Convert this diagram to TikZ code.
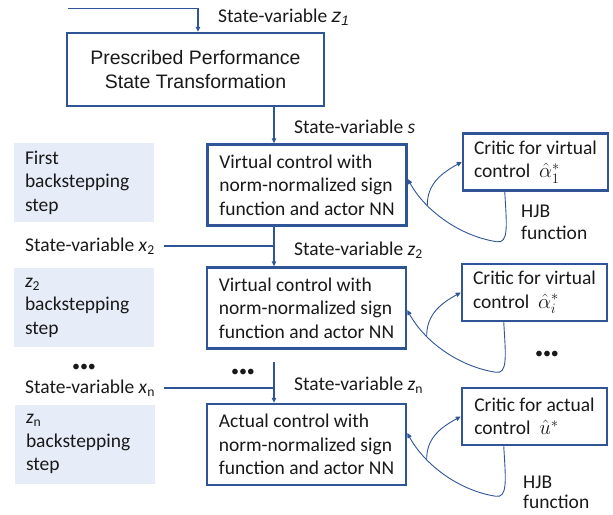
\documentclass[tikz,border=0pt]{standalone}
\usepackage{fontspec}
\setmainfont{Carlito}
\newfontfamily\arialf{Liberation Sans}
\usetikzlibrary{arrows.meta,calc}
\definecolor{bord}{RGB}{47,85,151}
\definecolor{pale}{RGB}{231,237,248}
\definecolor{ink}{RGB}{25,25,25}
\newcommand{\svar}[2]{\textit{#1}\textsubscript{#2}}
\begin{document}
\begin{tikzpicture}[x=1pt,y=-1pt,
  every node/.style={font=\fontsize{19.5pt}{23.5pt}\selectfont, text=ink, inner sep=0pt},
  ppbox/.style={draw=bord, line width=2.5pt, minimum width=257pt, minimum height=73pt, align=center,
    font=\arialf\fontsize{19.5pt}{24pt}\selectfont},
  ctrlbox/.style={draw=bord, line width=2.5pt, minimum width=199pt, minimum height=81pt, align=left},
  criticbox/.style={draw=bord, line width=2.5pt, minimum width=145pt, minimum height=57pt, align=left},
  stepbox/.style={fill=pale, minimum width=140pt, minimum height=79pt, text width=118pt, align=left},
  lab/.style={anchor=west},
  dots/.style={font=\fontsize{16pt}{16pt}\selectfont},
  conn/.style={draw=bord, line width=1.4pt},
  curv/.style={draw=bord, line width=0.9pt},
  tip/.style={-{Triangle[length=5pt,width=4.5pt]}}
]
\useasboundingbox (0,0) rectangle (613,514);

% main boxes
\node[ppbox] (pp) at (195.5,69.5) {Prescribed Performance\\State Transformation};
\node[ctrlbox] (b1) at (307,185) {Virtual control with\\norm-normalized sign\\function and actor NN};
\node[ctrlbox] (b2) at (306.5,308) {Virtual control with\\norm-normalized sign\\function and actor NN};
\node[ctrlbox] (b3) at (306.5,444.5) {Actual control with\\norm-normalized sign\\function and actor NN};

% critic boxes
\node[criticbox] (c1) at (535.5,162) {Critic for virtual\\control\ \ $\hat{\alpha}_1^{*}$};
\node[criticbox] (c2) at (534.5,292.5) {Critic for virtual\\control\ \ $\hat{\alpha}_i^{*}$};
\node[criticbox] (c3) at (534.5,416.5) {Critic for actual\\control\ \ $\hat{u}^{*}$};

% step boxes
\node[stepbox] (s1) at (84,182.5) {First\\backstepping\\step};
\node[stepbox] (s2) at (84,307.5) {\svar{z}{2}\\backstepping\\step};
\node[stepbox] (s3) at (85,444) {\svar{z}{n}\\backstepping\\step};

% labels
\node[lab] (lz1) at (218,17) {State-variable {\arialf\itshape z\textsubscript{1}}};
\node[lab] (ls) at (294,127) {State-variable \textit{s}};
\node[lab] (lx2) at (25,246) {State-variable \svar{x}{2}};
\node[lab] (lz2) at (294,250) {State-variable \svar{z}{2}};
\node[lab] (lxn) at (25,388) {State-variable \svar{x}{n}};
\node[lab] (lzn) at (294,385) {State-variable \svar{z}{n}};
\node[lab, align=left, font=\fontsize{19.5pt}{22pt}\selectfont] (h1) at (521,222) {HJB\\function};
\node[lab, align=left, font=\fontsize{19.5pt}{20pt}\selectfont] (h3) at (523,492) {HJB\\function};

% dots
\node[dots] (d1) at (84,368) {•••};
\node[dots] (d2) at (243,373) {•••};
\node[dots] (d3) at (547,355) {•••};

% spine connectors
\coordinate (in) at (68,8.5);
\coordinate (sx) at (274,0);
\coordinate (gap) at (274,362);
\draw[conn,tip] (in) -| ([xshift=2.5pt]pp.north);
\draw[conn,tip] (pp.south -| sx) -- (b1.north -| sx);
\draw[conn,tip] (b1.south -| sx) -- (b2.north -| sx);
\draw[conn] ([xshift=9pt]lx2.east) -- (lx2.east -| sx);
\draw[conn,tip] (gap) -- (b3.north -| sx);
\draw[conn] ([xshift=9pt]lxn.east) -- (lxn.east -| sx);

% critic loops
\draw[curv,tip] ([xshift=43pt]c1.south west) .. controls +(2,34) and +(12,2) .. ++(-8,50)
  .. controls +(-38,-6) and +(17,31) .. ([yshift=6pt]b1.east) coordinate[pos=0.7] (k1);
\draw[curv,tip] (k1) .. controls +(0,-20) and +(-22,12) .. (c1.west);

\draw[curv,tip] ([xshift=43pt]c2.south west) .. controls +(2,34) and +(12,2) .. ++(-8,50)
  .. controls +(-38,-6) and +(17,31) .. ([yshift=-2pt]b2.east) coordinate[pos=0.7] (k2);
\draw[curv,tip] (k2) .. controls +(0,-20) and +(-22,12) .. (c2.west);

\draw[curv,tip] ([xshift=43pt]c3.south west) .. controls +(2,34) and +(12,2) .. ++(-8,50)
  .. controls +(-38,-6) and +(17,31) .. ([yshift=11.5pt]b3.east) coordinate[pos=0.7] (k3);
\draw[curv,tip] (k3) .. controls +(0,-20) and +(-22,12) .. (c3.west);
\end{tikzpicture}
\end{document}
